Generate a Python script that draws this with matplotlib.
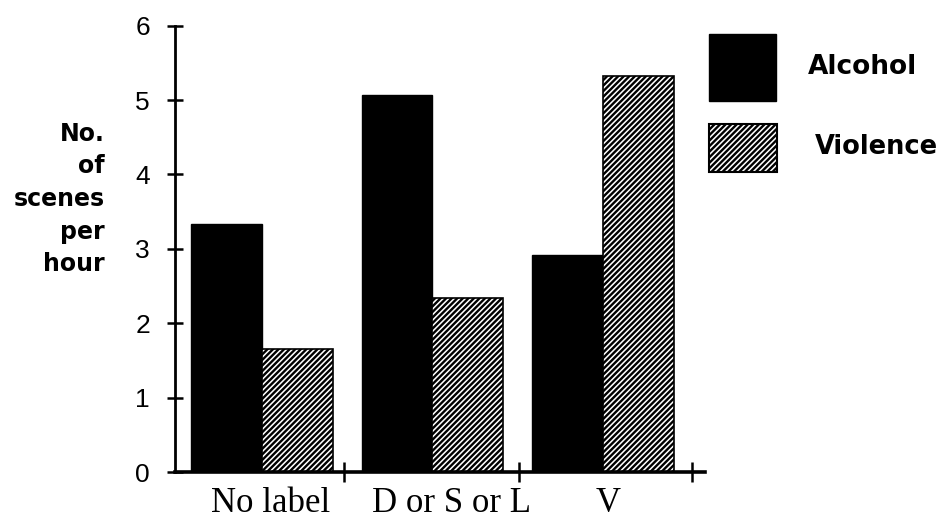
import matplotlib
matplotlib.use("Agg")
import matplotlib.pyplot as plt
from matplotlib.patches import Rectangle

categories = ["No label", "D or S or L", "V"]
alcohol = [3.33, 5.07, 2.92]
violence = [1.65, 2.34, 5.32]
yticks = [0, 1, 2, 3, 4, 5, 6]

plt.rcParams["hatch.linewidth"] = 1.7

fig = plt.figure(figsize=(9.43, 5.19), dpi=100)
ax = fig.add_axes([175 / 943, 47 / 519, 530 / 943, 446.3 / 519])

x = list(range(len(categories)))
width = 0.415
ax.bar([xi - width / 2 for xi in x], alcohol, width, color="black",
       edgecolor="black", linewidth=1)
ax.bar([xi + width / 2 for xi in x], violence, width, color="white",
       edgecolor="black", hatch="//////", linewidth=1.2)

ax.set_xlim(-0.51, 2.598)
ax.set_ylim(0, 6)

for s in ["top", "right"]:
    ax.spines[s].set_visible(False)
ax.spines["left"].set_linewidth(2)
ax.spines["bottom"].set_linewidth(2.6)

ax.set_yticks(yticks)
ax.set_yticklabels([str(t) for t in yticks], fontfamily="Liberation Sans", fontsize=19)
ax.tick_params(axis="y", direction="inout", length=12, width=1.8, pad=12)

# group separators on the x axis, labels placed as text
ax.set_xticks([0.48, 1.51, 2.52])
ax.set_xticklabels([])
ax.tick_params(axis="x", direction="inout", length=14, width=1.8)
label_x = [0.05, 1.11, 2.03]
for lx, lab in zip(label_x, categories):
    ax.text(lx, -0.42, lab, ha="center", va="center", fontsize=25,
            fontfamily="Liberation Serif", clip_on=False)

fig.text(105 / 943, 1 - 199 / 519, "No.\nof\nscenes\nper\nhour", ha="right",
         va="center", multialignment="right", fontsize=17, fontweight="bold",
         linespacing=1.45)

# legend drawn by hand
fig.add_artist(Rectangle((709 / 943, 1 - 101 / 519), 67 / 943, 67 / 519,
                         transform=fig.transFigure, facecolor="black", edgecolor="black"))
fig.add_artist(Rectangle((709 / 943, 1 - 172 / 519), 68 / 943, 48 / 519,
                         transform=fig.transFigure, facecolor="white", edgecolor="black",
                         hatch="//////", linewidth=1.5))
fig.text(808 / 943, 1 - 67 / 519, "Alcohol", ha="left", va="center",
         fontsize=19, fontweight="bold")
fig.text(815 / 943, 1 - 147 / 519, "Violence", ha="left", va="center",
         fontsize=18.5, fontweight="bold")

fig.savefig("out.png", dpi=100)
